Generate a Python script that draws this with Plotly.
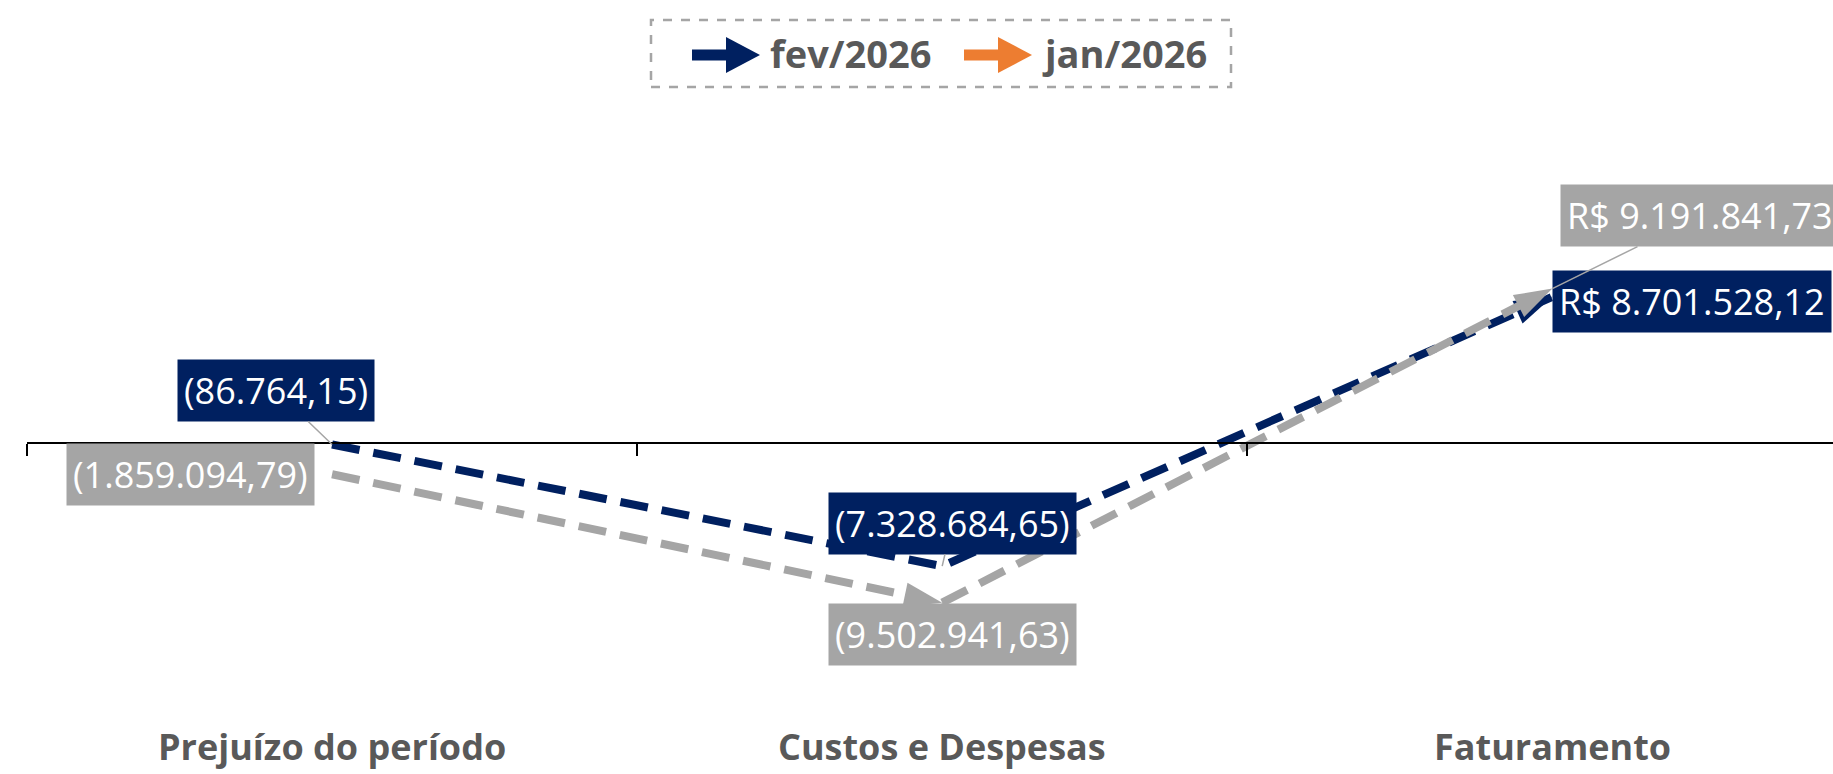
import plotly.graph_objects as go

# ---------------- data ----------------
categories = ["Prejuízo do período", "Custos e Despesas", "Faturamento"]
series_names = ["fev/2026", "jan/2026"]
fev_values = [-86764.15, -7328684.65, 8701528.12]
jan_values = [-1859094.79, -9502941.63, 9191841.73]

# ---------------- style ----------------
NAVY = "#002060"
GRAY = "#A5A5A5"
ORANGE = "#ED7D31"
TEXT_GRAY = "#595959"
FONT = "Open Sans"

W, H = 1833, 774
ML = 27
Y_MIN, Y_MAX = -19.70e6, 26.37e6
X_RANGE = [-0.5, 2.46]


def px(x):
    return (x - ML) / (W - ML)


def py(y):
    return 1 - y / H


def fmt_brl(v):
    s = f"{abs(v):,.2f}".replace(",", "X").replace(".", ",").replace("X", ".")
    return f"({s})" if v < 0 else f"R$ {s}"


fig = go.Figure()

series = [
    (series_names[0], fev_values, NAVY, [0, 0, 40]),
    (series_names[1], jan_values, GRAY, [0, 40, 40]),
]
for name, vals, col, msize in series:
    fig.add_trace(go.Scatter(
        x=categories, y=vals, mode="lines+markers", name=name,
        showlegend=False,
        line=dict(color=col, width=8, dash="28px,14px"),
        marker=dict(symbol="arrow", angleref="previous", opacity=1,
                    size=msize, color=col, line=dict(width=0)),
        hoverinfo="skip",
    ))

# data labels: (dx, dy) pixel offsets of label centre from point
fev_offsets = [(-56, -54), (10, -43), (140, 5)]
jan_offsets = [(-142, 0), (10, 32), (148, -73)]
fev_leader = [GRAY, GRAY, "rgba(0,0,0,0)"]
jan_leader = ["rgba(0,0,0,0)", GRAY, GRAY]

annotations = []
for vals, col, offs, leaders in [
    (fev_values, NAVY, fev_offsets, fev_leader),
    (jan_values, GRAY, jan_offsets, jan_leader),
]:
    for cat, v, (dx, dy), lc in zip(categories, vals, offs, leaders):
        annotations.append(dict(
            x=cat, y=v, xref="x", yref="y",
            text=fmt_brl(v), showarrow=True, ax=dx, ay=dy,
            axref="pixel", ayref="pixel",
            arrowhead=0, arrowwidth=1.5, arrowcolor=lc,
            bgcolor=col, borderpad=6,
            font=dict(family=FONT, size=36, color="white"),
        ))

for cat in categories:
    annotations.append(dict(
        x=cat, y=0, xref="x", yref="paper", yanchor="middle", yshift=28,
        text=f"<b>{cat}</b>", showarrow=False,
        font=dict(family=FONT, size=36, color=TEXT_GRAY),
    ))

# custom legend (line + arrowhead + label)
legend_colors = [NAVY, ORANGE]
legend_x = [692, 964]
shapes = [dict(
    type="rect", xref="paper", yref="paper",
    x0=px(651), x1=px(1231), y0=py(87), y1=py(20),
    line=dict(color=GRAY, width=2.5, dash="dash"),
    fillcolor="rgba(0,0,0,0)", layer="above",
)]
LY = 55
for name, col, lx in zip(series_names, legend_colors, legend_x):
    shapes.append(dict(
        type="line", xref="paper", yref="paper",
        x0=px(lx), x1=px(lx + 36), y0=py(LY), y1=py(LY),
        line=dict(color=col, width=11),
    ))
    tx0, tx1 = lx + 34, lx + 68
    shapes.append(dict(
        type="path", xref="paper", yref="paper",
        path=(f"M{px(tx0)},{py(LY - 18)} L{px(tx1)},{py(LY)} "
              f"L{px(tx0)},{py(LY + 18)} Z"),
        fillcolor=col, line=dict(width=0),
    ))
    annotations.append(dict(
        x=px(lx + 76), y=py(LY - 2), xref="paper", yref="paper",
        xanchor="left", yanchor="middle", showarrow=False,
        text=f"<b>{name}</b>",
        font=dict(family=FONT, size=38, color=TEXT_GRAY),
    ))

zero_pos = (0 - Y_MIN) / (Y_MAX - Y_MIN)

fig.update_layout(
    width=W, height=H,
    margin=dict(l=ML, r=0, t=0, b=0, autoexpand=False),
    paper_bgcolor="white", plot_bgcolor="white",
    showlegend=False,
    xaxis=dict(
        type="category", categoryorder="array", categoryarray=categories,
        range=X_RANGE, anchor="free", position=zero_pos,
        showline=True, linecolor="black", linewidth=1.5,
        ticks="outside", tickson="boundaries", ticklen=12,
        tickcolor="black", tickwidth=1.5,
        showticklabels=False, showgrid=False, zeroline=False,
        fixedrange=True, automargin=False,
    ),
    yaxis=dict(
        range=[Y_MIN, Y_MAX], visible=False, showgrid=False,
        zeroline=False, fixedrange=True,
    ),
    annotations=annotations,
    shapes=shapes,
)

fig.write_html("out.html")
